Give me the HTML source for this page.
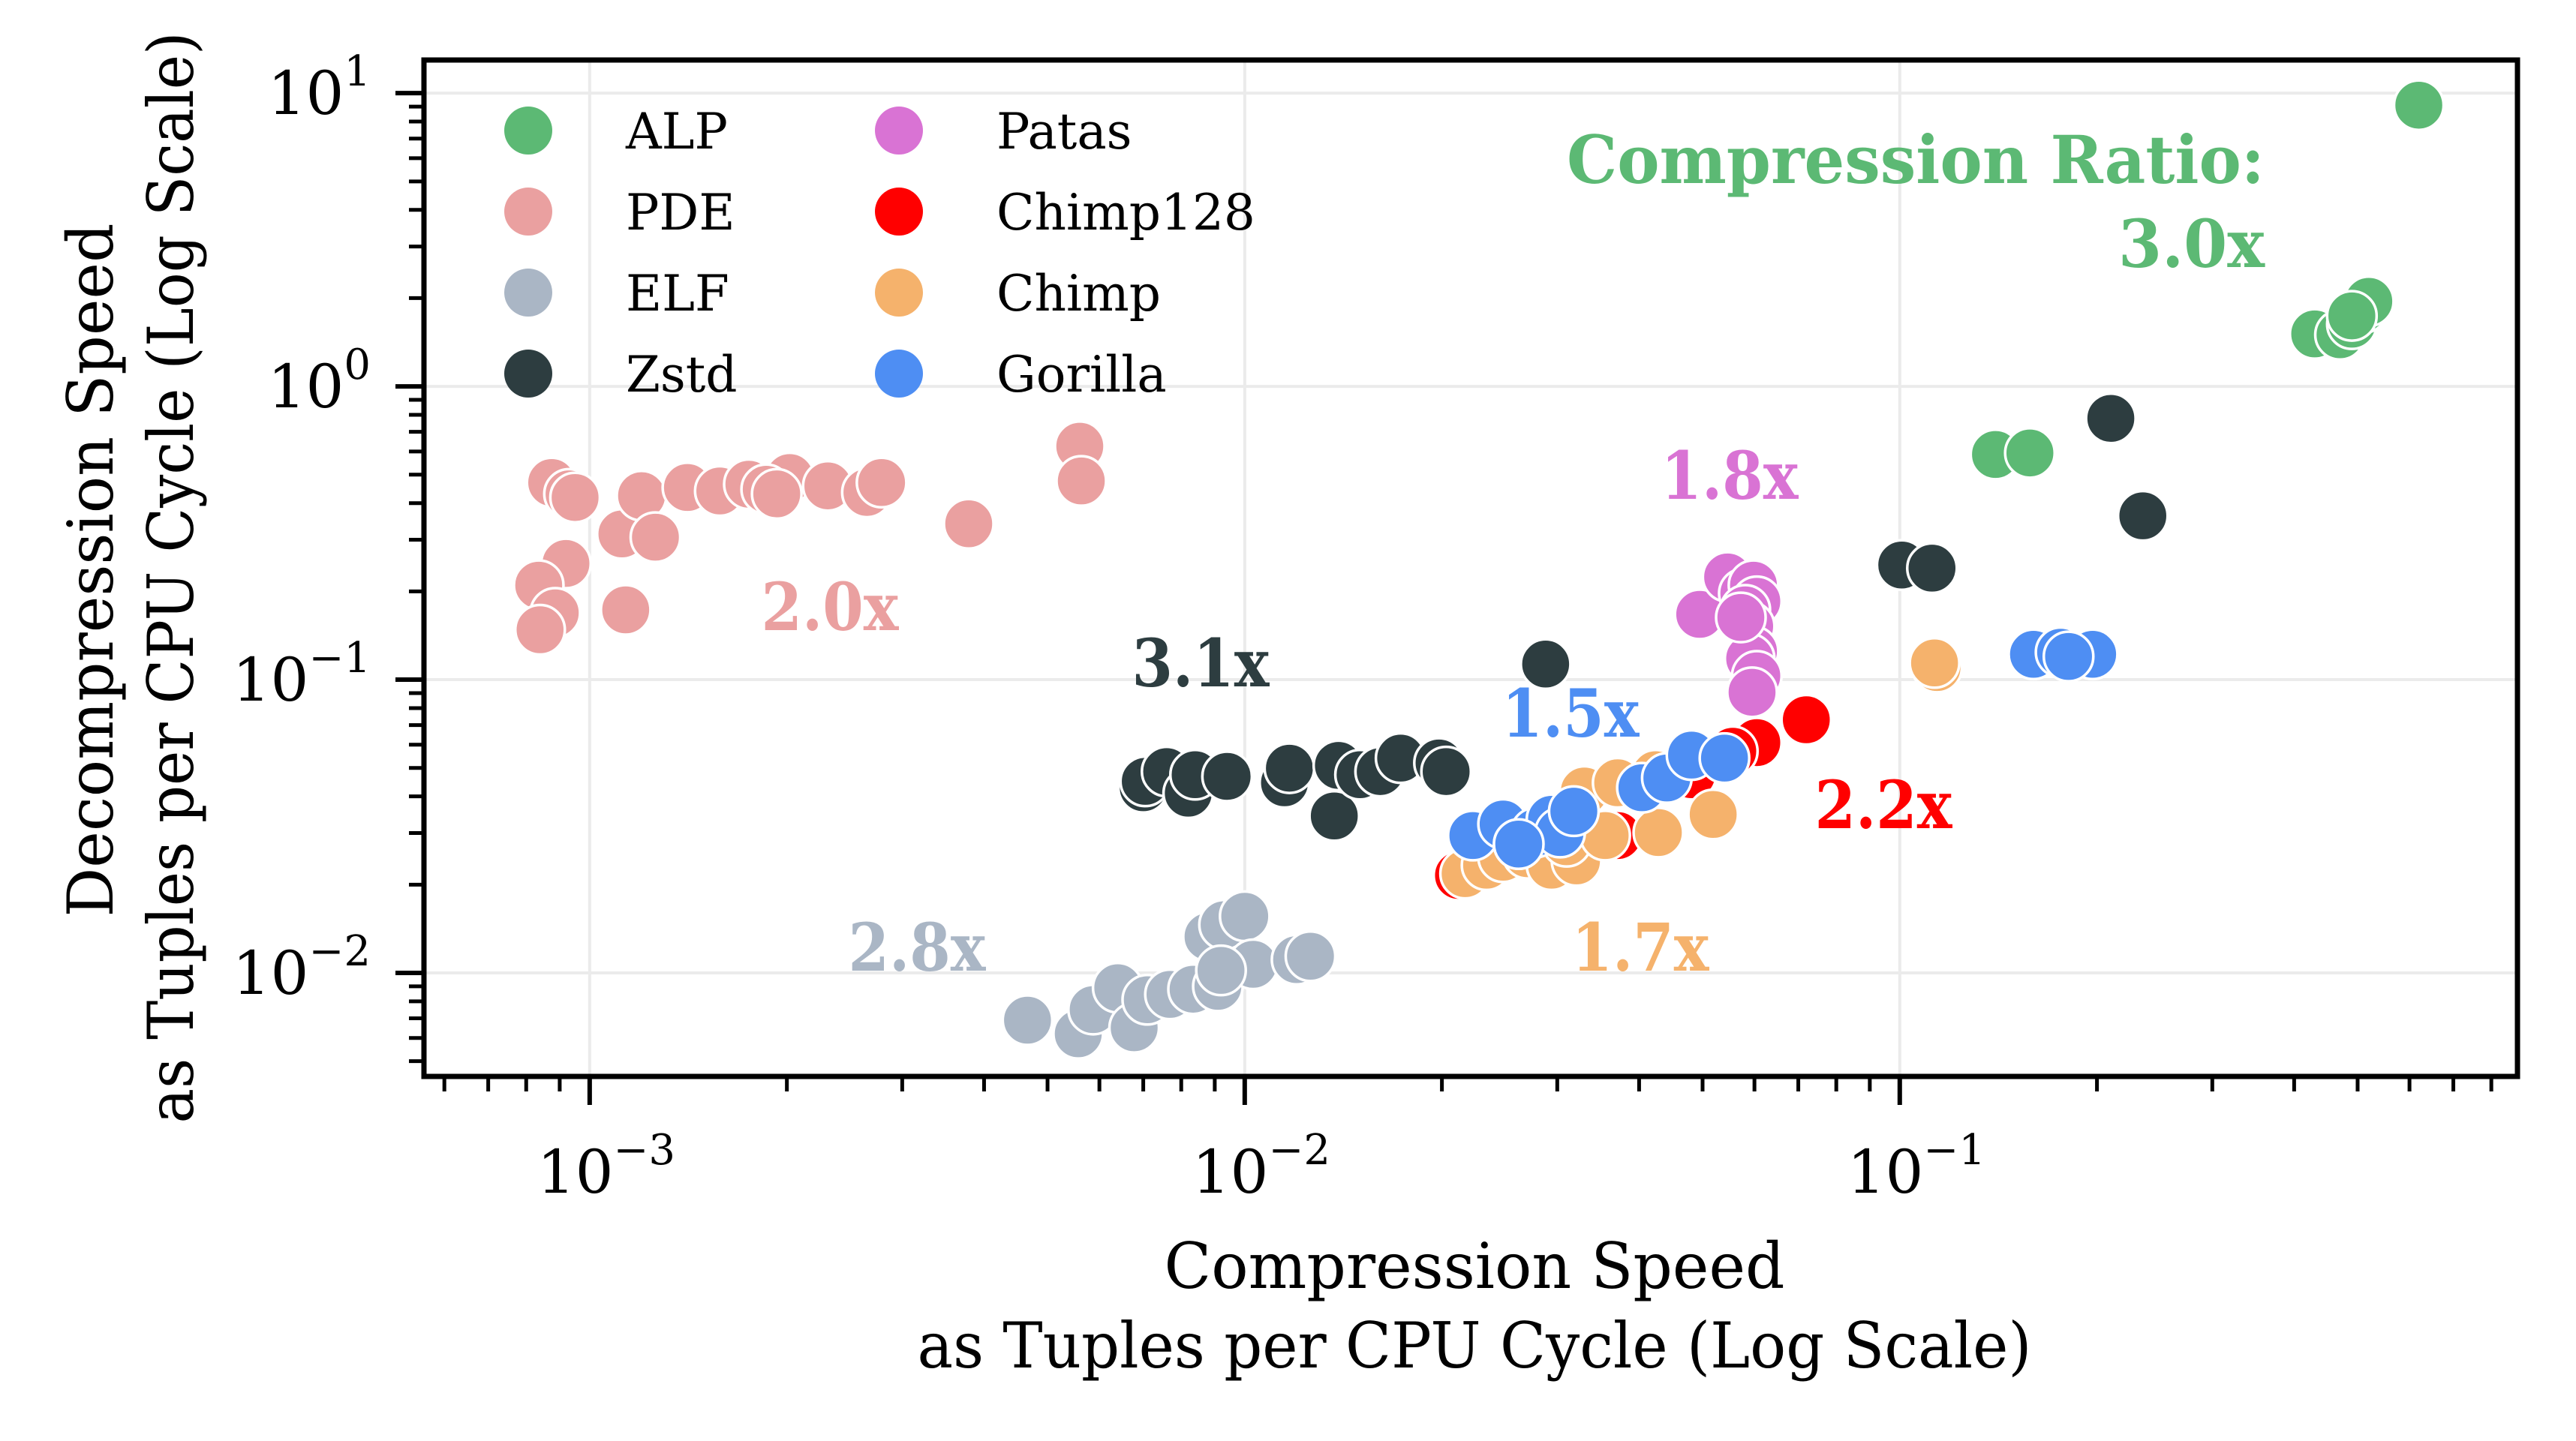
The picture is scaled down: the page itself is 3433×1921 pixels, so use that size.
<!DOCTYPE html>
<html><head><meta charset="utf-8">
<style>
html,body{margin:0;padding:0;background:#fff;}
svg{display:block;}
text{font-family:"DejaVu Serif","Liberation Serif",serif;}
</style></head>
<body>
<svg id="chart" width="3433" height="1921" viewBox="0 0 3433 1921" xmlns="http://www.w3.org/2000/svg">
<rect x="0" y="0" width="3433" height="1921" fill="#fff"/>
<g id="grid"></g>
<g id="points"></g>
<g id="legend"></g>
<g id="annots"></g>
<g id="axes"></g>
</svg>
<script>
const seriesNames = ["ALP","PDE","ELF","Zstd","Patas","Chimp128","Chimp","Gorilla"];
const seriesColors = ["#5cb974","#eaa0a0","#aab6c5","#2d3d40","#d973d4","#ff0000","#f5b26c","#4e8ef3"];
const alpX = [0.62,0.43,0.47,0.49,0.51,0.52,0.49,0.14,0.158];
const alpY = [9.1,1.51,1.5,1.63,1.85,1.95,1.74,0.586,0.593];
const pdeX = [8.75e-4,9.3e-4,9.2e-4,8.36e-4,8.86e-4,9.5e-4,1.12e-3,1.135e-3,1.2e-3,1.26e-3,1.41e-3,1.58e-3,1.75e-3,2.02e-3,2.31e-3,2.65e-3,2.79e-3,3.79e-3,5.6e-3,5.63e-3,1.86e-3,1.93e-3,8.4e-4];
const pdeY = [0.47,0.43,0.249,0.21,0.169,0.418,0.314,0.173,0.424,0.306,0.452,0.44,0.464,0.489,0.458,0.435,0.47,0.34,0.625,0.476,0.446,0.43,0.148];
const elfX = [4.66e-3,5.57e-3,5.87e-3,6.4e-3,6.78e-3,7.1e-3,7.69e-3,8.34e-3,9.1e-3,8.79e-3,9.3e-3,1.0e-2,1.03e-2,1.2e-2,1.26e-2,9.2e-3];
const elfY = [6.9e-3,6.2e-3,7.5e-3,8.9e-3,6.5e-3,8.1e-3,8.45e-3,8.8e-3,9.0e-3,1.33e-2,1.46e-2,1.56e-2,1.07e-2,1.11e-2,1.14e-2,1.02e-2];
const zstdX = [7.0e-3,7.05e-3,7.6e-3,8.2e-3,8.4e-3,9.4e-3,1.15e-2,1.17e-2,1.37e-2,1.39e-2,1.5e-2,1.61e-2,1.73e-2,1.98e-2,2.03e-2,2.88e-2,0.1007,0.112,0.21,0.235];
const zstdY = [4.28e-2,4.5e-2,4.86e-2,4.1e-2,4.74e-2,4.68e-2,4.45e-2,4.99e-2,3.43e-2,5.1e-2,4.74e-2,4.86e-2,5.4e-2,5.2e-2,4.86e-2,0.113,0.246,0.24,0.778,0.362];
const patasX = [4.95e-2,5.46e-2,5.78e-2,5.98e-2,6.05e-2,5.81e-2,5.9e-2,5.98e-2,5.9e-2,6.05e-2,5.95e-2,5.72e-2];
const patasY = [0.167,0.224,0.197,0.21,0.185,0.173,0.152,0.125,0.118,0.103,0.0906,0.163];
const chimp128X = [7.2e-2,6.05e-2,5.56e-2,2.12e-2,3.71e-2,4.81e-2];
const chimp128Y = [7.3e-2,6.1e-2,5.7e-2,2.15e-2,2.94e-2,4.74e-2];
const chimpX = [2.17e-2,2.34e-2,2.48e-2,2.7e-2,2.94e-2,3.21e-2,3.3e-2,3.71e-2,4.24e-2,4.28e-2,5.19e-2,0.114,0.113,3.1e-2,3.55e-2];
const chimpY = [2.18e-2,2.33e-2,2.48e-2,2.55e-2,2.33e-2,2.41e-2,4.17e-2,4.45e-2,4.74e-2,3.01e-2,3.47e-2,0.11,0.114,2.8e-2,2.94e-2];
const gorillaX = [2.23e-2,2.48e-2,2.62e-2,2.78e-2,2.94e-2,3.03e-2,3.18e-2,4.04e-2,4.41e-2,4.81e-2,5.4e-2,0.16,0.176,0.197,0.181,2.62e-2];
const gorillaY = [2.94e-2,3.22e-2,2.75e-2,3.01e-2,3.34e-2,3.01e-2,3.56e-2,4.28e-2,4.62e-2,5.53e-2,5.4e-2,0.122,0.124,0.122,0.12,2.75e-2];
const xTickExps = [-3,-2,-1];
const yTickExps = [1,0,-1,-2];
const annotTexts = ["Compression Ratio:","3.0x","2.0x","3.1x","1.5x","1.8x","2.2x","2.8x","1.7x"];
const annotSeries = [0,0,1,3,7,4,5,2,6];

const allX = [alpX,pdeX,elfX,zstdX,patasX,chimp128X,chimpX,gorillaX];
const allY = [alpY,pdeY,elfY,zstdY,patasY,chimp128Y,chimpY,gorillaY];

const NS="http://www.w3.org/2000/svg";
const L=565,R=3355,T=80,B=1435;
const xMin=-3.253,xMax=-0.057,yMin=-2.353,yMax=1.113;
function sx(v){return L+(Math.log10(v)-xMin)/(xMax-xMin)*(R-L);}
function sy(v){return B-(Math.log10(v)-yMin)/(yMax-yMin)*(B-T);}
function mk(tag,attrs,parent){const e=document.createElementNS(NS,tag);for(const k in attrs)e.setAttribute(k,attrs[k]);parent.appendChild(e);return e;}

const grid=document.getElementById('grid');
xTickExps.forEach(e=>{const x=sx(Math.pow(10,e));const l=mk('line',{x1:x,x2:x,y1:T,y2:B,stroke:'#ebebeb','stroke-width':4},grid);

});
yTickExps.forEach(e=>{const y=sy(Math.pow(10,e));const l=mk('line',{x1:L,x2:R,y1:y,y2:y,stroke:'#ebebeb','stroke-width':4},grid);

});

const pts=document.getElementById('points');
allX.forEach((xs,si)=>{
  const g=mk('g',{},pts);
  
  
  xs.forEach((xv,i)=>{
    const c=mk('circle',{cx:sx(xv),cy:sy(allY[si][i]),r:33,fill:seriesColors[si],stroke:'#fff','stroke-width':3.5},g);
    
    
  });
});

const leg=document.getElementById('legend');
seriesNames.forEach((n,i)=>{
  const col=Math.floor(i/4),row=i%4;
  const cx=col?1198:704, cy=174+row*108, tx=col?1328:834;
  const g=mk('g',{},leg);
  
  
  mk('circle',{cx:cx,cy:cy,r:32,fill:seriesColors[i]},g);
  const t=mk('text',{x:tx,y:cy+24,'font-size':66,fill:'#000'},g);
  t.textContent=n;
});

const an=document.getElementById('annots');
const annotPos=[[3018,244,'end',0],[3018,356,'end',0],[1106,840,'middle',183],[1600,915,'middle',183],[2093,982,'middle',183],[2305,665,'middle',183],[2510,1104,'middle',183],[1222,1294,'middle',183],[2186,1294,'middle',183]];
annotTexts.forEach((s,i)=>{
  const p=annotPos[i];
  const t=mk('text',{x:p[0],y:p[1],'font-size':88,'font-weight':'bold','text-anchor':p[2],fill:seriesColors[annotSeries[i]],'font-family':'"Liberation Serif","DejaVu Serif",serif'},an);
  if(p[3]){t.setAttribute('textLength',p[3]);t.setAttribute('lengthAdjust','spacingAndGlyphs');}
  if(i===0){t.setAttribute('textLength',930);t.setAttribute('lengthAdjust','spacingAndGlyphs');}
  if(i===1){t.setAttribute('textLength',195);t.setAttribute('lengthAdjust','spacingAndGlyphs');}
  
  
  t.textContent=s;
});

const ax=document.getElementById('axes');
const frame=mk('rect',{x:L,y:T,width:R-L,height:B-T,fill:'none',stroke:'#000','stroke-width':7},ax);


for(let e=-4;e<=0;e++){for(let m=1;m<10;m++){const v=m*Math.pow(10,e);const x=sx(v);if(x<L-1||x>R+1)continue;
  mk('line',{x1:x,x2:x,y1:B,y2:B+(m===1?38:20),stroke:'#000','stroke-width':m===1?6:5},ax);}}
for(let e=-3;e<=1;e++){for(let m=1;m<10;m++){const v=m*Math.pow(10,e);const y=sy(v);if(y<T-1||y>B+1)continue;
  mk('line',{x1:L,x2:L-(m===1?38:20),y1:y,y2:y,stroke:'#000','stroke-width':m===1?6:5},ax);}}
xTickExps.forEach(e=>{const x=sx(Math.pow(10,e));
  const t=mk('text',{x:x+22,y:1590,'font-size':80,'text-anchor':'middle',fill:'#000'},ax);
  
  
  t.innerHTML='10<tspan font-size="56" dy="-38">−'+(-e)+'</tspan>';});
yTickExps.forEach(e=>{const y=sy(Math.pow(10,e));
  const t=mk('text',{x:494,y:y+28,'font-size':80,'text-anchor':'end',fill:'#000'},ax);
  
  
  t.innerHTML='10<tspan font-size="56" dy="-38">'+(e<0?'−'+(-e):e)+'</tspan>';});
const xl1=mk('text',{x:1965,y:1717,'font-size':84,'text-anchor':'middle',textLength:827,lengthAdjust:'spacingAndGlyphs'},ax);


xl1.textContent='Compression Speed';
const xl2=mk('text',{x:1965,y:1823,'font-size':84,'text-anchor':'middle',textLength:1485,lengthAdjust:'spacingAndGlyphs'},ax);


xl2.textContent='as Tuples per CPU Cycle (Log Scale)';
const yl1=mk('text',{x:0,y:0,'font-size':84,'text-anchor':'middle',textLength:925,lengthAdjust:'spacingAndGlyphs',transform:'translate(150,760) rotate(-90)'},ax);


yl1.textContent='Decompression Speed';
const yl2=mk('text',{x:0,y:0,'font-size':84,'text-anchor':'middle',textLength:1455,lengthAdjust:'spacingAndGlyphs',transform:'translate(257,770) rotate(-90)'},ax);


yl2.textContent='as Tuples per CPU Cycle (Log Scale)';
</script>
</body></html>
